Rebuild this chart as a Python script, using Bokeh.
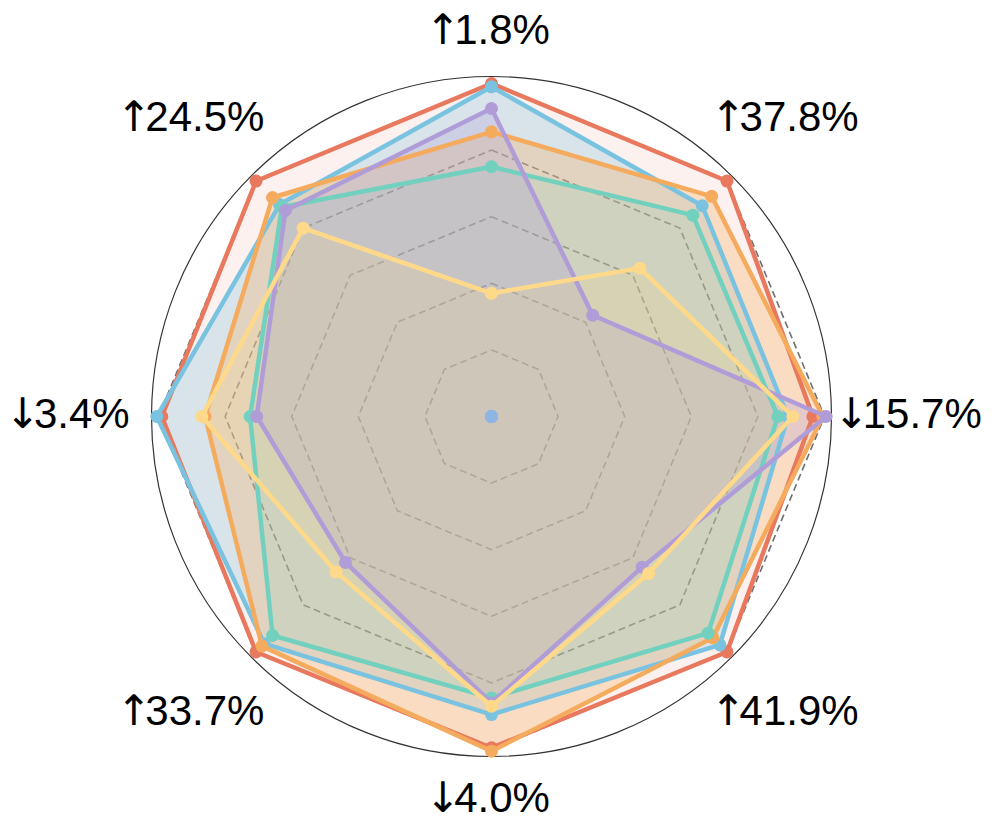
import numpy as np
from bokeh.plotting import figure
from bokeh.models import Range1d
from bokeh.core.properties import value
from bokeh.embed import file_html
from bokeh.resources import INLINE

# ---- data ----
axis_labels = ["↑1.8%", "↑37.8%", "↓15.7%", "↑41.9%", "↓4.0%", "↑33.7%", "↓3.4%", "↑24.5%"]
grid_levels = [0.2, 0.4, 0.6, 0.8, 1.0]
red_vals    = [1.00, 1.00, 0.965, 1.00, 0.995, 1.00, 0.99, 1.00]
blue_vals   = [0.99, 0.895, 0.89, 0.97, 0.895, 0.965, 1.005, 0.90]
orange_vals = [0.855, 0.935, 0.995, 0.94, 1.005, 0.975, 0.86, 0.93]
teal_vals   = [0.75, 0.855, 0.86, 0.92, 0.845, 0.93, 0.725, 0.89]
purple_vals = [0.925, 0.43, 1.005, 0.64, 0.86, 0.62, 0.705, 0.875]
yellow_vals = [0.37, 0.63, 0.905, 0.667, 0.87, 0.66, 0.87, 0.80]
base_vals   = [0, 0, 0, 0, 0, 0, 0, 0]

series = [
    (red_vals, "#E8795E", 0.10),
    (blue_vals, "#7AC3E0", 0.28),
    (orange_vals, "#F5AB5E", 0.30),
    (teal_vals, "#72D0BF", 0.17),
    (purple_vals, "#B09DD8", 0.28),
    (yellow_vals, "#FFD98A", 0.18),
]

n = len(axis_labels)
ang = np.pi / 2 - np.arange(n) * 2 * np.pi / n

PX = 333.0  # pixels per unit
W, H = 990, 830
cx, cy = 491, 416
p = figure(width=W, height=H, x_range=Range1d(-cx / PX, (W - cx) / PX),
           y_range=Range1d(-(H - cy) / PX, cy / PX),
           x_axis_type=None, y_axis_type=None, output_backend="svg",
           toolbar_location=None, min_border=0)
p.grid.visible = False
p.outline_line_color = None
p.background_fill_color = "white"

def xy(vals):
    v = np.asarray(vals, dtype=float)
    return v * np.cos(ang), v * np.sin(ang)

# outer circle
p.circle(x=[0], y=[0], radius=1.021, fill_color=None, line_color="#333333", line_width=1.2)

# grid octagons
gx, gy = [], []
for g in grid_levels:
    x, y = xy([g] * n)
    gx.append(list(x) + [x[0]])
    gy.append(list(y) + [y[0]])
p.multi_line(gx, gy, line_color="#6e6e6e", line_dash="7 4", line_width=1.6)

for vals, col, a in series:
    x, y = xy(vals)
    p.patch(list(x), list(y), fill_color=col, fill_alpha=a, line_color=None)
for vals, col, a in series:
    x, y = xy(vals)
    p.line(list(x) + [x[0]], list(y) + [y[0]], line_color=col, line_width=4.5)
    p.scatter(list(x), list(y), size=13, fill_color=col, line_color=None)

bx, by = xy(base_vals)
p.scatter(list(bx), list(by), size=13, fill_color="#8FB6E3", line_color=None)

# axis labels: arrow (DejaVu Sans) + number (Liberation Sans)
FS = 42.0
adv = {"0": 0.556, "1": 0.556, "2": 0.556, "3": 0.556, "4": 0.556, "5": 0.556,
       "6": 0.556, "7": 0.556, "8": 0.556, "9": 0.556, ".": 0.278, "%": 0.889}
GAP = 21.0        # from start of label to number origin
ARROW_SHIFT = 8.0  # arrow glyph origin left of label start
BASE_OFF = -3.0
ax_x, ax_y, nm_x, nm_y, arrows, nums = [], [], [], [], [], []
for i, lab in enumerate(axis_labels):
    c, s = np.cos(ang[i]), np.sin(ang[i])
    r = 1.153 if abs(c) < 1e-6 else 1.262
    xc, yc = r * c, r * s
    numw = sum(adv[ch] for ch in lab[1:]) * FS
    total = GAP + numw
    x0 = xc - total / 2 / PX
    yb = yc - BASE_OFF / PX
    ax_x.append(x0 - ARROW_SHIFT / PX); ax_y.append(yb); arrows.append(lab[0])
    nm_x.append(x0 + GAP / PX); nm_y.append(yb); nums.append(lab[1:])

p.text(x=ax_x, y=ax_y, text=arrows, text_font=value("DejaVu Sans"),
       text_font_size="42px", text_align="left", text_baseline="alphabetic",
       text_color="black")
p.text(x=nm_x, y=nm_y, text=nums, text_font=value("Liberation Sans"),
       text_font_size="42px", text_align="left", text_baseline="alphabetic",
       text_color="black")

open("out.html", "w").write(file_html(p, INLINE))
